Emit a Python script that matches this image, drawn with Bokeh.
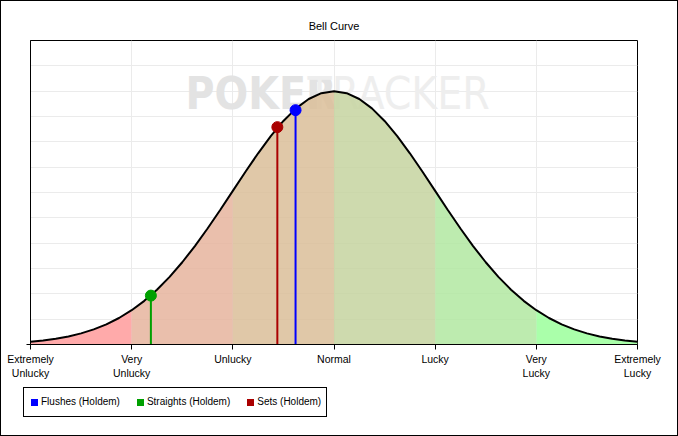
from bokeh.plotting import figure
from bokeh.layouts import column
from bokeh.models import FixedTicker, Label, Div
from bokeh.embed import file_html
from bokeh.resources import INLINE

# ---- data ----
curve_x = [-3.0, -2.875, -2.75, -2.625, -2.5, -2.375, -2.25, -2.125, -2.0,
           -1.875, -1.75, -1.625, -1.5, -1.375, -1.25, -1.125, -1.0,
           -0.875, -0.75, -0.625, -0.5, -0.375, -0.25, -0.125, 0.0,
           0.125, 0.25, 0.375, 0.5, 0.625, 0.75, 0.875, 1.0,
           1.125, 1.25, 1.375, 1.5, 1.625, 1.75, 1.875, 2.0,
           2.125, 2.25, 2.375, 2.5, 2.625, 2.75, 2.875, 3.0]
curve_y = [0.111, 0.160, 0.228, 0.319, 0.439, 0.596, 0.796, 1.046, 1.353,
           1.724, 2.163, 2.671, 3.247, 3.886, 4.578, 5.311, 6.065,
           6.819, 7.548, 8.226, 8.825, 9.321, 9.692, 9.922, 10.000,
           9.922, 9.692, 9.321, 8.825, 8.226, 7.548, 6.819, 6.065,
           5.311, 4.578, 3.886, 3.247, 2.671, 2.163, 1.724, 1.353,
           1.046, 0.796, 0.596, 0.439, 0.319, 0.228, 0.160, 0.111]

tick_pos = [-3, -2, -1, 0, 1, 2, 3]
tick_labels = ["Extremely\nUnlucky", "Very\nUnlucky", "Unlucky", "Normal",
               "Lucky", "Very\nLucky", "Extremely\nLucky"]
band_colors = ["#FF9B9B", "#E6B49D", "#DABE99", "#C6D3A0", "#B1E7A1", "#9BFF9B"]

series_names = ["Flushes (Holdem)", "Straights (Holdem)", "Sets (Holdem)"]
series_x = [-0.38, -1.81, -0.56]
series_y = [9.25, 1.93, 8.58]
series_colors = ["#0000FF", "#00A000", "#AA0000"]

FONT = "Liberation Sans"

p = figure(width=676, height=385, output_backend="svg", toolbar_location=None,
           x_range=(-3, 3), y_range=(0, 12),
           min_border_left=29, min_border_right=40, min_border_top=39,
           min_border_bottom=42)
p.background_fill_color = "white"
p.border_fill_color = "white"
p.outline_line_color = "black"
p.outline_line_width = 1

p.title.text = "Bell Curve"
p.title.align = "center"
p.title.text_font = FONT
p.title.text_font_size = "11px"
p.title.text_font_style = "normal"
p.title.text_color = "black"
p.title.standoff = 18

bottom_axis = p.below[0]
left_axis = p.left[0]

# grid
p.xgrid.ticker = FixedTicker(ticks=tick_pos)
p.ygrid.ticker = FixedTicker(ticks=list(range(13)))
p.xgrid.grid_line_color = "#EBEBEB"
p.ygrid.grid_line_color = "#EBEBEB"

# axes
bottom_axis.ticker = FixedTicker(ticks=tick_pos)
bottom_axis.major_label_overrides = {t: l for t, l in zip(tick_pos, tick_labels)}
bottom_axis.major_label_text_font = FONT
bottom_axis.major_label_text_font_size = "10.5px"
bottom_axis.major_label_text_color = "black"
bottom_axis.major_label_standoff = 3
bottom_axis.major_tick_out = 5
bottom_axis.major_tick_in = 0
bottom_axis.minor_tick_line_color = None
bottom_axis.axis_line_color = "black"

left_axis.ticker = FixedTicker(ticks=[0])
left_axis.major_label_overrides = {0: ""}
left_axis.major_tick_out = 4
left_axis.major_tick_in = 0
left_axis.minor_tick_line_color = None
left_axis.axis_line_color = "black"

# watermark
wm1 = Label(x=-1.467, y=8.91, text="POKER", text_font="DejaVu Sans Condensed",
            text_font_size="44px", text_font_style="bold", text_color="#E3E3E3",
            level="underlay")
wm2 = Label(x=-0.262, y=8.91, text="TRACKER", text_font="DejaVu Sans Condensed",
            text_font_size="44px", text_font_style="normal", text_color="#EEEEEE",
            level="underlay")
p.add_layout(wm1)
p.add_layout(wm2)

# bands under the curve
for i in range(len(tick_pos) - 1):
    lo, hi = tick_pos[i], tick_pos[i + 1]
    bx = [x for x in curve_x if lo <= x <= hi]
    by = [y for x, y in zip(curve_x, curve_y) if lo <= x <= hi]
    p.patch(bx + [hi, lo], by + [0, 0], fill_color=band_colors[i], fill_alpha=0.85,
            line_color=None)

p.line(curve_x, curve_y, line_color="black", line_width=2)

for name, sx, sy, c in zip(series_names, series_x, series_y, series_colors):
    p.segment(x0=[sx], y0=[0], x1=[sx], y1=[sy], line_color=c, line_width=2)
    p.scatter([sx], [sy], size=11, marker="circle", fill_color=c, line_color=c)

# legend box below the chart
entries = "".join(
    '<span style="display:inline-block;width:7px;height:7px;background:%s;'
    'margin-right:3px;flex:none"></span>'
    '<span style="margin-right:%dpx;white-space:nowrap">%s</span>'
    % (c, 17 if k < len(series_names) - 1 else 0, n)
    for k, (n, c) in enumerate(zip(series_names, series_colors)))
legend_html = (
    '<div style="margin:1px 0 0 22px;border:1px solid black;width:295px;height:28px;'
    'padding-left:7px;display:flex;align-items:center;background:white;'
    'font-family:\'Liberation Sans\';font-size:10px;color:black;'
    'box-sizing:content-box;line-height:1">' + entries + '</div>')
legend_div = Div(text=legend_html, width=676, height=49, margin=0,
                 styles={"background": "white"})

layout = column(p, legend_div, spacing=0,
                styles={"border": "1px solid black", "background": "white"})

open("out.html", "w").write(file_html(layout, INLINE))
